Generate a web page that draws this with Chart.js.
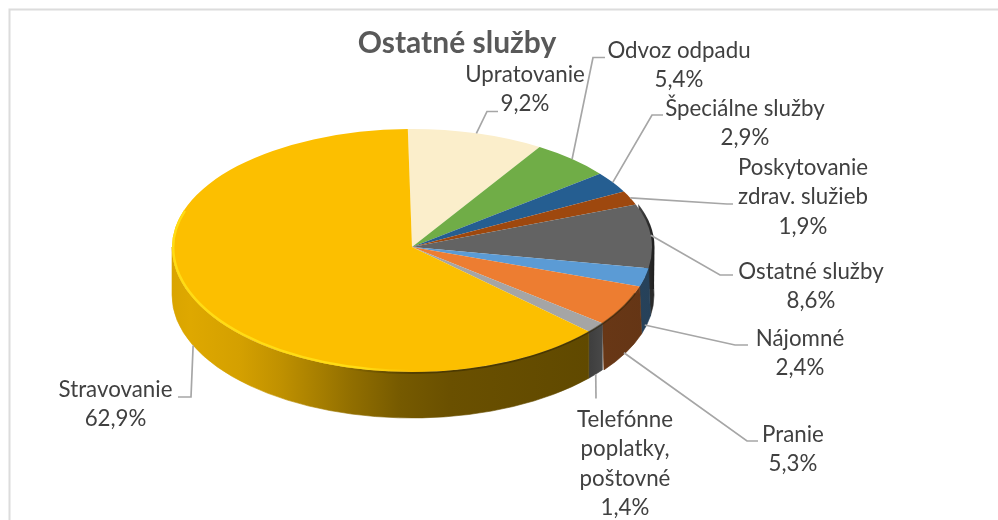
<!DOCTYPE html>
<html lang="sk">
<head>
<meta charset="utf-8">
<title>Ostatné služby</title>
<style>html,body{margin:0;padding:0;background:#fff;overflow:hidden}canvas{display:block}</style>
<script src="https://cdn.jsdelivr.net/npm/chart.js@4"></script>
</head>
<body>
<canvas id="c" width="998" height="520"></canvas>
<script>
const categories = ["Upratovanie","Odvoz odpadu","Špeciálne služby","Poskytovanie zdrav. služieb","Ostatné služby","Nájomné","Pranie","Telefónne poplatky, poštovné","Stravovanie"];
const shares = [9.2,5.4,2.9,1.9,8.6,2.4,5.3,1.4,62.9];
const sliceColors = ["#FBEECB","#70AD47","#255E91","#9E480E","#636363","#5B9BD5","#ED7D31","#A5A5A5","#FCBF00"];
const labelLines = [["Upratovanie"],["Odvoz odpadu"],["Špeciálne služby"],["Poskytovanie","zdrav. služieb"],["Ostatné služby"],["Nájomné"],["Pranie"],["Telefónne","poplatky,","poštovné"],["Stravovanie"]];

// presentation geometry (not data)
const CX=412, CY=247, R=240, RY_UP=118, RY_DOWN=125, DEPTH=48, RY_WALL=123;
const LINE_H=29.3;
const labelPlace=[
 {x:525,y:82,path:[[487,111.5],[498,111.5]],on:"top"},
 {x:679,y:58,path:[[593,57.5],[605,57.5]],on:"top"},
 {x:745,y:116,path:[[652,115],[663,115]],on:"top"},
 {x:803,y:175,path:[[727,204],[733,204]],on:"top"},
 {x:811,y:279,path:[[720,275],[733,275]],on:"top"},
 {x:800,y:346,path:[[735,345],[748,345]],on:"wall"},
 {x:793,y:442,path:[[747,441],[758,441]],on:"wall"},
 {x:625,y:427,path:[[596,398.5]],on:"wall"},
 {x:115.5,y:397,path:[[191,397],[178,397]],on:"wall"}
];
const wallShade=[[171,.86],[190,.88],[240,.84],[280,.76],[320,.66],[350,.58],[400,.47],[450,.42],[590,.38],[604,.44],[653,.42]];

function rgbOf(h){return [1,3,5].map(i=>parseInt(h.substr(i,2),16));}
function wallGradient(ctx,hex){
  const g=ctx.createLinearGradient(171,0,653,0), c=rgbOf(hex);
  wallShade.forEach(([x,f])=>g.addColorStop((x-171)/482,`rgb(${c.map(v=>Math.round(v*f)).join(",")})`));
  return g;
}
const pie3d={
  id:"pie3d",
  beforeDatasetsDraw(chart){
    const ctx=chart.ctx, arcs=chart.getDatasetMeta(0).data;
    // frame
    ctx.save();ctx.strokeStyle="#dcdcdc";ctx.lineWidth=2;
    ctx.beginPath();ctx.moveTo(9.5,520);ctx.lineTo(9.5,9.5);ctx.lineTo(998,9.5);ctx.stroke();ctx.restore();
    // walls
    arcs.forEach((el,i)=>{
      const p=el.getProps(["startAngle","endAngle"],true);
      const a0=Math.max(p.startAngle,0), a1=Math.min(p.endAngle,Math.PI);
      if(a1>a0){
        ctx.save();
        ctx.fillStyle=wallGradient(ctx,sliceColors[i]);
        ctx.beginPath();
        ctx.ellipse(CX,CY+DEPTH,R+(a0<.5?2:0),RY_WALL,0,a0,a1);
        ctx.ellipse(CX,CY,R,RY_DOWN,0,a1,a0,true);
        ctx.closePath();ctx.fill();
        ctx.strokeStyle=ctx.fillStyle;ctx.lineWidth=.6;ctx.stroke();
        ctx.restore();
      }
      // dark crescent on the far right of the rim
      if(p.startAngle<0&&p.endAngle>0){
        const g=ctx.createLinearGradient(632,0,655,0);
        g.addColorStop(0,"#555");g.addColorStop(1,"#1c1c1c");
        ctx.save();ctx.fillStyle=g;ctx.beginPath();
        ctx.ellipse(CX,CY,R+2.5,RY_UP+1,0,p.startAngle,0);
        ctx.lineTo(CX+R+2,CY+DEPTH-6);
        ctx.lineTo(CX+R-6,CY+DEPTH-6);
        ctx.closePath();ctx.fill();ctx.restore();
      }
    });
    // top face: the library's own arcs, squashed into a perspective ellipse
    [[0,CY,RY_UP],[CY,520-CY,RY_DOWN]].forEach(([y,h,ry])=>{
      ctx.save();
      ctx.beginPath();ctx.rect(0,y,998,h);ctx.clip();
      ctx.translate(CX,CY);ctx.scale(1,ry/R);
      arcs.forEach(el=>{ctx.save();ctx.translate(-el.x,-el.y);el.draw(ctx);ctx.restore();});
      ctx.restore();
    });
    // bevel
    const b=ctx.createLinearGradient(171,0,410,0);
    b.addColorStop(0,"#ffdc14");b.addColorStop(.8,"#ffdc14");b.addColorStop(1,"rgba(255,220,20,0)");
    ctx.save();ctx.strokeStyle=b;ctx.lineWidth=2.4;ctx.beginPath();
    ctx.ellipse(CX,CY,R-1.2,RY_DOWN-1.2,0,Math.PI*.5,Math.PI);
    ctx.ellipse(CX,CY,R-1.2,RY_UP-1.2,0,Math.PI,Math.PI*1.1);
    ctx.stroke();ctx.restore();
    const s=ctx.createLinearGradient(340,0,420,0);
    s.addColorStop(0,"rgba(40,30,0,0)");s.addColorStop(1,"rgba(40,30,0,.45)");
    ctx.save();ctx.strokeStyle=s;ctx.lineWidth=2;ctx.beginPath();
    ctx.ellipse(CX,CY,R,RY_DOWN+1,0,Math.PI*.12,Math.PI*.7);ctx.stroke();ctx.restore();
    return false;
  },
  afterDraw(chart){
    const ctx=chart.ctx, arcs=chart.getDatasetMeta(0).data;
    ctx.save();
    ctx.font="22.3px Lato";ctx.textAlign="center";ctx.textBaseline="alphabetic";
    arcs.forEach((el,i)=>{
      const p=el.getProps(["startAngle","endAngle"],true), m=(p.startAngle+p.endAngle)/2, L=labelPlace[i];
      const down=Math.sin(m)>0;
      const ax=CX+R*Math.cos(m);
      const ay=L.on==="wall"?CY+DEPTH+RY_WALL*Math.sin(m):CY+(down?RY_DOWN:RY_UP)*Math.sin(m);
      ctx.strokeStyle="#a6a6a6";ctx.lineWidth=1.7;ctx.beginPath();ctx.moveTo(ax,ay);
      L.path.forEach(q=>ctx.lineTo(q[0],q[1]));ctx.stroke();
      ctx.fillStyle="#404040";
      const lines=labelLines[i].concat(shares[i].toFixed(1).replace(".",",")+"%");
      lines.forEach((t,k)=>ctx.fillText(t,L.x,L.y+k*LINE_H));
    });
    ctx.restore();
  }
};
new Chart(document.getElementById("c"),{
  type:"pie",
  data:{labels:categories,datasets:[{data:shares,backgroundColor:sliceColors,borderWidth:0,radius:R}]},
  plugins:[pie3d],
  options:{
    responsive:false,animation:false,rotation:-1,
    layout:{padding:{top:25,right:84,left:0,bottom:0}},
    plugins:{
      legend:{display:false},tooltip:{enabled:false},
      title:{display:true,text:"Ostatné služby",color:"#595959",font:{family:"Lato",size:30,weight:"bold"},padding:0}
    }
  }
});
</script>
</body>
</html>
